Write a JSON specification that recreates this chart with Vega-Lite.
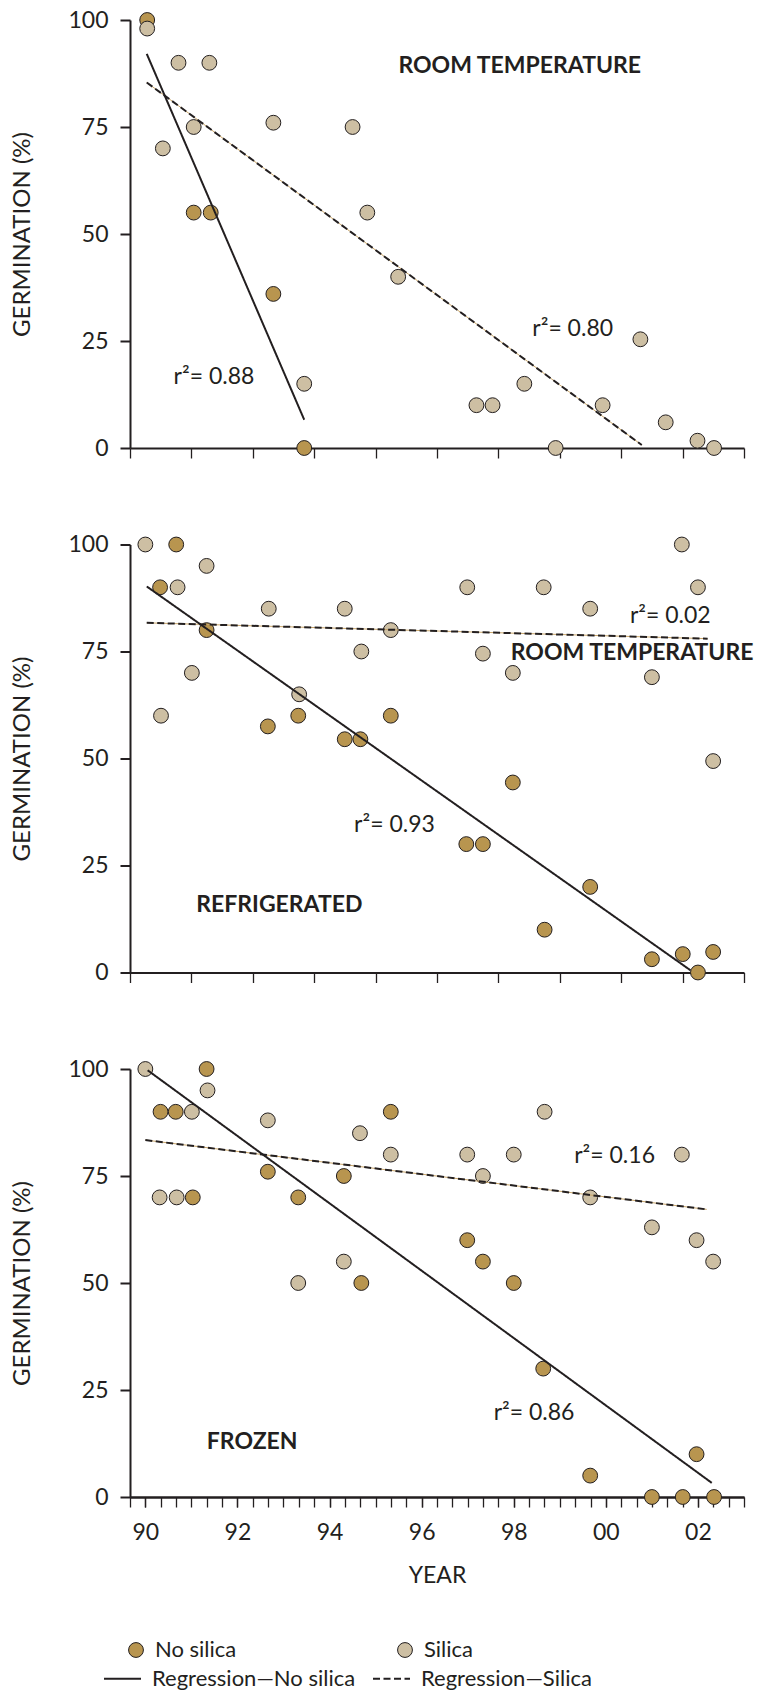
{
  "$schema": "https://vega.github.io/schema/vega-lite/v6.json",
  "background": "white",
  "padding": {"left": 10, "top": 9, "right": 0, "bottom": 0},
  "bounds": "flush",
  "spacing": 96.5,
  "config": {
    "font": "Lato",
    "view": {"stroke": null},
    "axis": {
      "grid": false,
      "domainColor": "#231f20",
      "tickColor": "#231f20",
      "labelColor": "#231f20",
      "titleColor": "#231f20",
      "labelFont": "Lato",
      "titleFont": "Lato",
      "labelFontSize": 23,
      "titleFontSize": 24,
      "titleFontWeight": "normal",
      "domainWidth": 2
    },
    "legend": {
      "labelFont": "Lato",
      "labelFontSize": 22,
      "labelColor": "#231f20",
      "labelLimit": 500
    }
  },
  "datasets": {
    "pts": [
      {"panel": "room", "year": 1990.04, "germ": 100, "treatment": "No silica"},
      {"panel": "room", "year": 1991.05, "germ": 55, "treatment": "No silica"},
      {"panel": "room", "year": 1991.42, "germ": 55, "treatment": "No silica"},
      {"panel": "room", "year": 1992.78, "germ": 36, "treatment": "No silica"},
      {"panel": "room", "year": 1993.45, "germ": 0, "treatment": "No silica"},
      {"panel": "room", "year": 1990.04, "germ": 98, "treatment": "Silica"},
      {"panel": "room", "year": 1990.72, "germ": 90, "treatment": "Silica"},
      {"panel": "room", "year": 1991.39, "germ": 90, "treatment": "Silica"},
      {"panel": "room", "year": 1990.38, "germ": 70, "treatment": "Silica"},
      {"panel": "room", "year": 1991.05, "germ": 75, "treatment": "Silica"},
      {"panel": "room", "year": 1992.78, "germ": 76, "treatment": "Silica"},
      {"panel": "room", "year": 1993.45, "germ": 15, "treatment": "Silica"},
      {"panel": "room", "year": 1994.5, "germ": 75, "treatment": "Silica"},
      {"panel": "room", "year": 1994.82, "germ": 55, "treatment": "Silica"},
      {"panel": "room", "year": 1995.49, "germ": 40, "treatment": "Silica"},
      {"panel": "room", "year": 1997.19, "germ": 10, "treatment": "Silica"},
      {"panel": "room", "year": 1997.54, "germ": 10, "treatment": "Silica"},
      {"panel": "room", "year": 1998.23, "germ": 15, "treatment": "Silica"},
      {"panel": "room", "year": 1998.91, "germ": 0, "treatment": "Silica"},
      {"panel": "room", "year": 1999.93, "germ": 10, "treatment": "Silica"},
      {"panel": "room", "year": 2000.75, "germ": 25.4, "treatment": "Silica"},
      {"panel": "room", "year": 2001.3, "germ": 6, "treatment": "Silica"},
      {"panel": "room", "year": 2001.99, "germ": 1.7, "treatment": "Silica"},
      {"panel": "room", "year": 2002.35, "germ": 0, "treatment": "Silica"},

      {"panel": "fridge", "year": 1990.32, "germ": 90, "treatment": "No silica"},
      {"panel": "fridge", "year": 1990.67, "germ": 100, "treatment": "No silica"},
      {"panel": "fridge", "year": 1991.33, "germ": 80, "treatment": "No silica"},
      {"panel": "fridge", "year": 1992.66, "germ": 57.5, "treatment": "No silica"},
      {"panel": "fridge", "year": 1993.32, "germ": 60, "treatment": "No silica"},
      {"panel": "fridge", "year": 1994.33, "germ": 54.5, "treatment": "No silica"},
      {"panel": "fridge", "year": 1994.67, "germ": 54.5, "treatment": "No silica"},
      {"panel": "fridge", "year": 1995.33, "germ": 60, "treatment": "No silica"},
      {"panel": "fridge", "year": 1996.97, "germ": 30, "treatment": "No silica"},
      {"panel": "fridge", "year": 1997.33, "germ": 30, "treatment": "No silica"},
      {"panel": "fridge", "year": 1997.98, "germ": 44.4, "treatment": "No silica"},
      {"panel": "fridge", "year": 1998.67, "germ": 10, "treatment": "No silica"},
      {"panel": "fridge", "year": 1999.66, "germ": 20, "treatment": "No silica"},
      {"panel": "fridge", "year": 2001.0, "germ": 3.1, "treatment": "No silica"},
      {"panel": "fridge", "year": 2001.67, "germ": 4.3, "treatment": "No silica"},
      {"panel": "fridge", "year": 2002.0, "germ": 0, "treatment": "No silica"},
      {"panel": "fridge", "year": 2002.33, "germ": 4.8, "treatment": "No silica"},
      {"panel": "fridge", "year": 1990.0, "germ": 100, "treatment": "Silica"},
      {"panel": "fridge", "year": 1990.34, "germ": 60, "treatment": "Silica"},
      {"panel": "fridge", "year": 1990.7, "germ": 90, "treatment": "Silica"},
      {"panel": "fridge", "year": 1991.01, "germ": 70, "treatment": "Silica"},
      {"panel": "fridge", "year": 1991.33, "germ": 95, "treatment": "Silica"},
      {"panel": "fridge", "year": 1992.68, "germ": 85, "treatment": "Silica"},
      {"panel": "fridge", "year": 1993.34, "germ": 65, "treatment": "Silica"},
      {"panel": "fridge", "year": 1994.33, "germ": 85, "treatment": "Silica"},
      {"panel": "fridge", "year": 1994.69, "germ": 75, "treatment": "Silica"},
      {"panel": "fridge", "year": 1995.33, "germ": 80, "treatment": "Silica"},
      {"panel": "fridge", "year": 1996.99, "germ": 90, "treatment": "Silica"},
      {"panel": "fridge", "year": 1997.33, "germ": 74.5, "treatment": "Silica"},
      {"panel": "fridge", "year": 1997.98, "germ": 70, "treatment": "Silica"},
      {"panel": "fridge", "year": 1998.65, "germ": 90, "treatment": "Silica"},
      {"panel": "fridge", "year": 1999.66, "germ": 85, "treatment": "Silica"},
      {"panel": "fridge", "year": 2001.0, "germ": 69, "treatment": "Silica"},
      {"panel": "fridge", "year": 2001.65, "germ": 100, "treatment": "Silica"},
      {"panel": "fridge", "year": 2002.0, "germ": 90, "treatment": "Silica"},
      {"panel": "fridge", "year": 2002.33, "germ": 49.4, "treatment": "Silica"},

      {"panel": "frozen", "year": 1990.33, "germ": 90, "treatment": "No silica"},
      {"panel": "frozen", "year": 1990.66, "germ": 90, "treatment": "No silica"},
      {"panel": "frozen", "year": 1991.03, "germ": 70, "treatment": "No silica"},
      {"panel": "frozen", "year": 1991.33, "germ": 100, "treatment": "No silica"},
      {"panel": "frozen", "year": 1992.66, "germ": 76, "treatment": "No silica"},
      {"panel": "frozen", "year": 1993.32, "germ": 70, "treatment": "No silica"},
      {"panel": "frozen", "year": 1994.31, "germ": 75, "treatment": "No silica"},
      {"panel": "frozen", "year": 1994.69, "germ": 50, "treatment": "No silica"},
      {"panel": "frozen", "year": 1995.33, "germ": 90, "treatment": "No silica"},
      {"panel": "frozen", "year": 1996.99, "germ": 60, "treatment": "No silica"},
      {"panel": "frozen", "year": 1997.33, "germ": 55, "treatment": "No silica"},
      {"panel": "frozen", "year": 1998.0, "germ": 50, "treatment": "No silica"},
      {"panel": "frozen", "year": 1998.64, "germ": 30, "treatment": "No silica"},
      {"panel": "frozen", "year": 1999.66, "germ": 5, "treatment": "No silica"},
      {"panel": "frozen", "year": 2001.0, "germ": 0, "treatment": "No silica"},
      {"panel": "frozen", "year": 2001.67, "germ": 0, "treatment": "No silica"},
      {"panel": "frozen", "year": 2001.97, "germ": 10, "treatment": "No silica"},
      {"panel": "frozen", "year": 2002.35, "germ": 0, "treatment": "No silica"},
      {"panel": "frozen", "year": 1990.0, "germ": 100, "treatment": "Silica"},
      {"panel": "frozen", "year": 1990.31, "germ": 70, "treatment": "Silica"},
      {"panel": "frozen", "year": 1990.68, "germ": 70, "treatment": "Silica"},
      {"panel": "frozen", "year": 1991.01, "germ": 90, "treatment": "Silica"},
      {"panel": "frozen", "year": 1991.35, "germ": 95, "treatment": "Silica"},
      {"panel": "frozen", "year": 1992.66, "germ": 88, "treatment": "Silica"},
      {"panel": "frozen", "year": 1993.32, "germ": 50, "treatment": "Silica"},
      {"panel": "frozen", "year": 1994.31, "germ": 55, "treatment": "Silica"},
      {"panel": "frozen", "year": 1994.66, "germ": 85, "treatment": "Silica"},
      {"panel": "frozen", "year": 1995.33, "germ": 80, "treatment": "Silica"},
      {"panel": "frozen", "year": 1996.99, "germ": 80, "treatment": "Silica"},
      {"panel": "frozen", "year": 1997.33, "germ": 75, "treatment": "Silica"},
      {"panel": "frozen", "year": 1998.0, "germ": 80, "treatment": "Silica"},
      {"panel": "frozen", "year": 1998.67, "germ": 90, "treatment": "Silica"},
      {"panel": "frozen", "year": 1999.66, "germ": 70, "treatment": "Silica"},
      {"panel": "frozen", "year": 2001.0, "germ": 63, "treatment": "Silica"},
      {"panel": "frozen", "year": 2001.65, "germ": 80, "treatment": "Silica"},
      {"panel": "frozen", "year": 2001.97, "germ": 60, "treatment": "Silica"},
      {"panel": "frozen", "year": 2002.33, "germ": 55, "treatment": "Silica"}
    ],
    "lines": [
      {"panel": "room", "series": "Regression—No silica", "year": 1990.03, "germ": 92.1},
      {"panel": "room", "series": "Regression—No silica", "year": 1993.45, "germ": 6.6},
      {"panel": "room", "series": "Regression—Silica", "year": 1990.03, "germ": 85.4},
      {"panel": "room", "series": "Regression—Silica", "year": 2000.78, "germ": 0.7},
      {"panel": "fridge", "series": "Regression—No silica", "year": 1990.03, "germ": 90.2},
      {"panel": "fridge", "series": "Regression—No silica", "year": 2001.84, "germ": 0.5},
      {"panel": "fridge", "series": "Regression—Silica", "year": 1990.03, "germ": 81.7},
      {"panel": "fridge", "series": "Regression—Silica", "year": 2002.21, "germ": 78.0},
      {"panel": "frozen", "series": "Regression—No silica", "year": 1990.05, "germ": 99.7},
      {"panel": "frozen", "series": "Regression—No silica", "year": 2002.3, "germ": 3.3},
      {"panel": "frozen", "series": "Regression—Silica", "year": 1990.0, "germ": 83.4},
      {"panel": "frozen", "series": "Regression—Silica", "year": 2002.19, "germ": 67.2}
    ],
    "labels": [
      {"panel": "room", "year": 1998.13, "germ": 89.3, "text": "ROOM TEMPERATURE", "kind": "title"},
      {"panel": "room", "year": 1991.49, "germ": 16.5, "text": "r²= 0.88", "kind": "r2"},
      {"panel": "room", "year": 1999.28, "germ": 27.8, "text": "r²= 0.80", "kind": "r2"},
      {"panel": "fridge", "year": 2001.4, "germ": 83.4, "text": "r²= 0.02", "kind": "r2"},
      {"panel": "fridge", "year": 2000.57, "germ": 74.6, "text": "ROOM TEMPERATURE", "kind": "title"},
      {"panel": "fridge", "year": 1995.41, "germ": 34.4, "text": "r²= 0.93", "kind": "r2"},
      {"panel": "fridge", "year": 1992.91, "germ": 15.7, "text": "REFRIGERATED", "kind": "title"},
      {"panel": "frozen", "year": 2000.19, "germ": 79.6, "text": "r²= 0.16", "kind": "r2"},
      {"panel": "frozen", "year": 1998.44, "germ": 19.7, "text": "r²= 0.86", "kind": "r2"},
      {"panel": "frozen", "year": 1992.32, "germ": 12.9, "text": "FROZEN", "kind": "title"}
    ]
  },
  "vconcat": [
    {
      "width": 614,
      "height": 428,
      "layer": [
        {
          "data": {"name": "pts"},
          "transform": [{"filter": "datum.panel == 'room'"}],
          "mark": {"type": "point", "shape": "circle", "filled": true, "size": 220, "stroke": "#231f20", "strokeWidth": 1, "opacity": 1},
          "encoding": {
            "x": {"field": "year", "type": "quantitative", "scale": {"domain": [1989.6667, 2003], "nice": false, "zero": false},
              "axis": {"values": [1989.6667, 1990, 1990.3333, 1990.6667, 1991, 1991.3333, 1991.6667, 1992, 1992.3333, 1992.6667, 1993, 1993.3333, 1993.6667, 1994, 1994.3333, 1994.6667, 1995, 1995.3333, 1995.6667, 1996, 1996.3333, 1996.6667, 1997, 1997.3333, 1997.6667, 1998, 1998.3333, 1998.6667, 1999, 1999.3333, 1999.6667, 2000, 2000.3333, 2000.6667, 2001, 2001.3333, 2001.6667, 2002, 2002.3333, 2002.6667, 2003], "labels": false, "title": null, "tickSize": 10, "tickWidth": 1.3}},
            "y": {"field": "germ", "type": "quantitative", "scale": {"domain": [0, 100], "nice": false},
              "axis": {"values": [0, 25, 50, 75, 100], "tickSize": 10, "tickWidth": 2, "labelPadding": 12, "title": "GERMINATION (%)", "titlePadding": 33}},
            "fill": {"field": "treatment", "type": "nominal", "scale": {"domain": ["No silica", "Silica"], "range": ["#b8954f", "#cdbfa3"]},
              "legend": {"orient": "none", "legendX": -5, "legendY": 1619, "direction": "horizontal", "title": null, "padding": 0, "symbolType": "circle", "symbolSize": 220, "symbolStrokeColor": "#231f20", "symbolStrokeWidth": 1, "labelOffset": 8, "columnPadding": 157}}
          }
        },
        {
          "data": {"name": "lines"},
          "transform": [{"filter": "datum.panel == 'room' && datum.series == 'Regression—Silica'"}],
          "mark": {"type": "line", "stroke": "#c9a66b", "strokeWidth": 1},
          "encoding": {
            "x": {"field": "year", "type": "quantitative"},
            "y": {"field": "germ", "type": "quantitative"}
          }
        },
        {
          "data": {"name": "lines"},
          "transform": [{"filter": "datum.panel == 'room'"}],
          "mark": {"type": "line", "color": "#231f20", "strokeWidth": 2},
          "encoding": {
            "x": {"field": "year", "type": "quantitative"},
            "y": {"field": "germ", "type": "quantitative"},
            "detail": {"field": "series"},
            "strokeDash": {"field": "series", "type": "nominal", "scale": {"domain": ["Regression—No silica", "Regression—Silica"], "range": [[1, 0], [7, 3.5]]},
              "legend": {"orient": "none", "legendX": -27, "legendY": 1639, "direction": "horizontal", "title": null, "padding": 0, "symbolType": "stroke", "symbolSize": 1369, "symbolStrokeColor": "#231f20", "symbolStrokeWidth": 2, "labelOffset": 10, "columnPadding": 13}}
          }
        },
        {
          "data": {"name": "labels"},
          "transform": [{"filter": "datum.panel == 'room' && datum.kind == 'r2'"}],
          "mark": {"type": "text", "fontSize": 23, "font": "Lato", "color": "#231f20", "align": "center", "baseline": "middle"},
          "encoding": {
            "x": {"field": "year", "type": "quantitative"},
            "y": {"field": "germ", "type": "quantitative"},
            "text": {"field": "text"}
          }
        },
        {
          "data": {"name": "labels"},
          "transform": [{"filter": "datum.panel == 'room' && datum.kind == 'title'"}],
          "mark": {"type": "text", "fontSize": 23, "font": "Lato", "fontWeight": "bold", "color": "#231f20", "align": "center", "baseline": "middle"},
          "encoding": {
            "x": {"field": "year", "type": "quantitative"},
            "y": {"field": "germ", "type": "quantitative"},
            "text": {"field": "text"}
          }
        }
      ]
    },
    {
      "width": 614,
      "height": 428,
      "layer": [
        {
          "data": {"name": "pts"},
          "transform": [{"filter": "datum.panel == 'fridge'"}],
          "mark": {"type": "point", "shape": "circle", "filled": true, "size": 220, "stroke": "#231f20", "strokeWidth": 1, "opacity": 1},
          "encoding": {
            "x": {"field": "year", "type": "quantitative", "scale": {"domain": [1989.6667, 2003], "nice": false, "zero": false},
              "axis": {"values": [1989.6667, 1990, 1990.3333, 1990.6667, 1991, 1991.3333, 1991.6667, 1992, 1992.3333, 1992.6667, 1993, 1993.3333, 1993.6667, 1994, 1994.3333, 1994.6667, 1995, 1995.3333, 1995.6667, 1996, 1996.3333, 1996.6667, 1997, 1997.3333, 1997.6667, 1998, 1998.3333, 1998.6667, 1999, 1999.3333, 1999.6667, 2000, 2000.3333, 2000.6667, 2001, 2001.3333, 2001.6667, 2002, 2002.3333, 2002.6667, 2003], "labels": false, "title": null, "tickSize": 10, "tickWidth": 1.3}},
            "y": {"field": "germ", "type": "quantitative", "scale": {"domain": [0, 100], "nice": false},
              "axis": {"values": [0, 25, 50, 75, 100], "tickSize": 10, "tickWidth": 2, "labelPadding": 12, "title": "GERMINATION (%)", "titlePadding": 33}},
            "fill": {"field": "treatment", "type": "nominal", "scale": {"domain": ["No silica", "Silica"], "range": ["#b8954f", "#cdbfa3"]},
              "legend": {"orient": "none", "legendX": -5, "legendY": 1619, "direction": "horizontal", "title": null, "padding": 0, "symbolType": "circle", "symbolSize": 220, "symbolStrokeColor": "#231f20", "symbolStrokeWidth": 1, "labelOffset": 8, "columnPadding": 157}}
          }
        },
        {
          "data": {"name": "lines"},
          "transform": [{"filter": "datum.panel == 'fridge' && datum.series == 'Regression—Silica'"}],
          "mark": {"type": "line", "stroke": "#c9a66b", "strokeWidth": 1},
          "encoding": {
            "x": {"field": "year", "type": "quantitative"},
            "y": {"field": "germ", "type": "quantitative"}
          }
        },
        {
          "data": {"name": "lines"},
          "transform": [{"filter": "datum.panel == 'fridge'"}],
          "mark": {"type": "line", "color": "#231f20", "strokeWidth": 2},
          "encoding": {
            "x": {"field": "year", "type": "quantitative"},
            "y": {"field": "germ", "type": "quantitative"},
            "detail": {"field": "series"},
            "strokeDash": {"field": "series", "type": "nominal", "scale": {"domain": ["Regression—No silica", "Regression—Silica"], "range": [[1, 0], [7, 3.5]]},
              "legend": {"orient": "none", "legendX": -27, "legendY": 1639, "direction": "horizontal", "title": null, "padding": 0, "symbolType": "stroke", "symbolSize": 1369, "symbolStrokeColor": "#231f20", "symbolStrokeWidth": 2, "labelOffset": 10, "columnPadding": 13}}
          }
        },
        {
          "data": {"name": "labels"},
          "transform": [{"filter": "datum.panel == 'fridge' && datum.kind == 'r2'"}],
          "mark": {"type": "text", "fontSize": 23, "font": "Lato", "color": "#231f20", "align": "center", "baseline": "middle"},
          "encoding": {
            "x": {"field": "year", "type": "quantitative"},
            "y": {"field": "germ", "type": "quantitative"},
            "text": {"field": "text"}
          }
        },
        {
          "data": {"name": "labels"},
          "transform": [{"filter": "datum.panel == 'fridge' && datum.kind == 'title'"}],
          "mark": {"type": "text", "fontSize": 23, "font": "Lato", "fontWeight": "bold", "color": "#231f20", "align": "center", "baseline": "middle"},
          "encoding": {
            "x": {"field": "year", "type": "quantitative"},
            "y": {"field": "germ", "type": "quantitative"},
            "text": {"field": "text"}
          }
        }
      ]
    },
    {
      "width": 614,
      "height": 428,
      "resolve": {"axis": {"x": "independent"}},
      "layer": [
        {
          "data": {"name": "pts"},
          "transform": [{"filter": "datum.panel == 'frozen'"}],
          "mark": {"type": "point", "shape": "circle", "filled": true, "size": 220, "stroke": "#231f20", "strokeWidth": 1, "opacity": 1},
          "encoding": {
            "x": {"field": "year", "type": "quantitative", "scale": {"domain": [1989.6667, 2003], "nice": false, "zero": false},
              "axis": {"orient": "bottom", "values": [1990, 1992, 1994, 1996, 1998, 2000, 2002], "labelExpr": "datum.value == 2000 ? '00' : datum.value == 2002 ? '02' : substring(toString(datum.value), 2, 4)", "labelPadding": 14, "title": "YEAR", "titleFontSize": 23, "titlePadding": 20, "tickSize": 10, "tickWidth": 1.3}},
            "y": {"field": "germ", "type": "quantitative", "scale": {"domain": [0, 100], "nice": false},
              "axis": {"values": [0, 25, 50, 75, 100], "tickSize": 10, "tickWidth": 2, "labelPadding": 12, "title": "GERMINATION (%)", "titlePadding": 33}},
            "fill": {"field": "treatment", "type": "nominal", "scale": {"domain": ["No silica", "Silica"], "range": ["#b8954f", "#cdbfa3"]},
              "legend": {"orient": "none", "legendX": -5, "legendY": 1619, "direction": "horizontal", "title": null, "padding": 0, "symbolType": "circle", "symbolSize": 220, "symbolStrokeColor": "#231f20", "symbolStrokeWidth": 1, "labelOffset": 8, "columnPadding": 157}}
          }
        },
        {
          "data": {"name": "lines"},
          "transform": [{"filter": "datum.panel == 'frozen' && datum.series == 'Regression—Silica'"}],
          "mark": {"type": "line", "stroke": "#c9a66b", "strokeWidth": 1},
          "encoding": {
            "x": {"field": "year", "type": "quantitative",
              "axis": {"orient": "bottom", "values": [1989.6667, 1990, 1990.3333, 1990.6667, 1991, 1991.3333, 1991.6667, 1992, 1992.3333, 1992.6667, 1993, 1993.3333, 1993.6667, 1994, 1994.3333, 1994.6667, 1995, 1995.3333, 1995.6667, 1996, 1996.3333, 1996.6667, 1997, 1997.3333, 1997.6667, 1998, 1998.3333, 1998.6667, 1999, 1999.3333, 1999.6667, 2000, 2000.3333, 2000.6667, 2001, 2001.3333, 2001.6667, 2002, 2002.3333, 2002.6667, 2003], "labels": false, "title": null, "tickSize": 10, "tickWidth": 1.3}},
            "y": {"field": "germ", "type": "quantitative"}
          }
        },
        {
          "data": {"name": "lines"},
          "transform": [{"filter": "datum.panel == 'frozen'"}],
          "mark": {"type": "line", "color": "#231f20", "strokeWidth": 2},
          "encoding": {
            "x": {"field": "year", "type": "quantitative", "axis": null},
            "y": {"field": "germ", "type": "quantitative"},
            "detail": {"field": "series"},
            "strokeDash": {"field": "series", "type": "nominal", "scale": {"domain": ["Regression—No silica", "Regression—Silica"], "range": [[1, 0], [7, 3.5]]},
              "legend": {"orient": "none", "legendX": -27, "legendY": 1639, "direction": "horizontal", "title": null, "padding": 0, "symbolType": "stroke", "symbolSize": 1369, "symbolStrokeColor": "#231f20", "symbolStrokeWidth": 2, "labelOffset": 10, "columnPadding": 13}}
          }
        },
        {
          "data": {"name": "labels"},
          "transform": [{"filter": "datum.panel == 'frozen' && datum.kind == 'r2'"}],
          "mark": {"type": "text", "fontSize": 23, "font": "Lato", "color": "#231f20", "align": "center", "baseline": "middle"},
          "encoding": {
            "x": {"field": "year", "type": "quantitative", "axis": null},
            "y": {"field": "germ", "type": "quantitative"},
            "text": {"field": "text"}
          }
        },
        {
          "data": {"name": "labels"},
          "transform": [{"filter": "datum.panel == 'frozen' && datum.kind == 'title'"}],
          "mark": {"type": "text", "fontSize": 23, "font": "Lato", "fontWeight": "bold", "color": "#231f20", "align": "center", "baseline": "middle"},
          "encoding": {
            "x": {"field": "year", "type": "quantitative", "axis": null},
            "y": {"field": "germ", "type": "quantitative"},
            "text": {"field": "text"}
          }
        }
      ]
    }
  ]
}
